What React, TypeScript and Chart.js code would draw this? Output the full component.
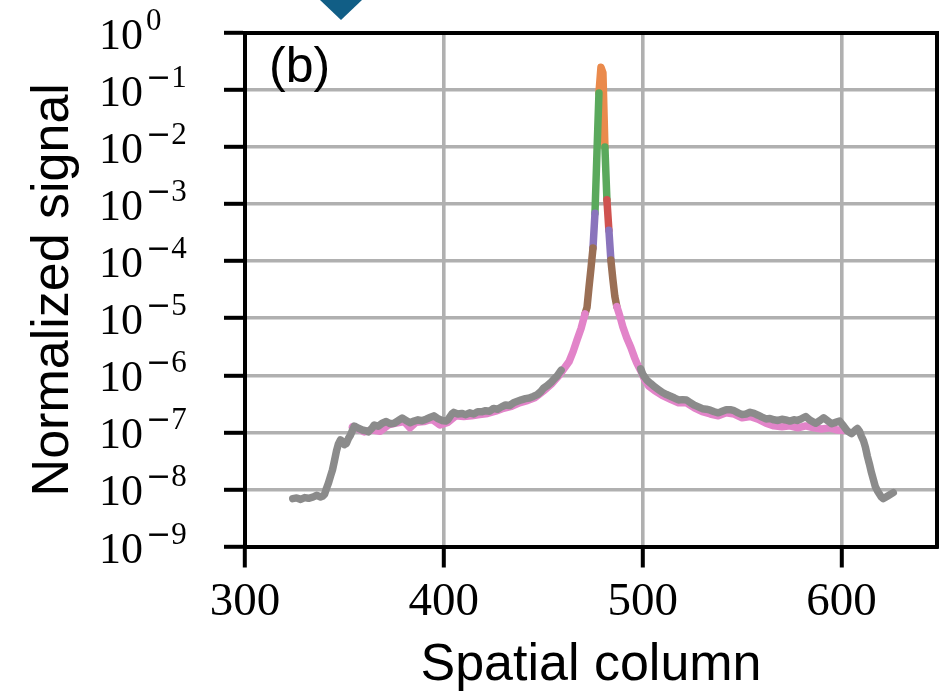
import React, { useEffect, useRef } from 'react';
import { Chart, registerables } from 'chart.js';

Chart.register(...registerables);

// ---- axis ticks ----
const xTickValues = [300, 400, 500, 600];
const yTickExponents = [0, -1, -2, -3, -4, -5, -6, -7, -8, -9];

// ---- gray series (wings) ----
const grayLeftX = [324, 326, 328, 330, 332, 334, 336, 338, 339, 340, 341, 342, 343, 344, 345, 346, 347, 348, 349, 350, 351, 352, 353, 354, 355, 357, 359, 361, 362, 364, 365, 367, 369, 371, 373, 375, 377, 379, 381, 383, 385, 387, 389, 391, 393, 395, 397, 399, 401, 402, 404, 405, 407, 409, 411, 413, 415, 417, 419, 421, 423, 425, 427, 429, 431, 433, 435, 437, 439, 441, 443, 445, 447, 449, 450, 452, 454, 455, 457, 459];
const grayLeftY = [6.9e-9, 7.1e-9, 6.7e-9, 7.2e-9, 7.0e-9, 7.3e-9, 7.9e-9, 7.4e-9, 7.6e-9, 8.2e-9, 1.05e-8, 1.3e-8, 1.7e-8, 2.2e-8, 3.2e-8, 4.7e-8, 6.3e-8, 7.4e-8, 7.0e-8, 6.1e-8, 6.4e-8, 7.8e-8, 8.9e-8, 1.08e-7, 1.29e-7, 1.18e-7, 1.1e-7, 1.06e-7, 1.02e-7, 1.2e-7, 1.35e-7, 1.28e-7, 1.45e-7, 1.55e-7, 1.42e-7, 1.45e-7, 1.6e-7, 1.78e-7, 1.62e-7, 1.48e-7, 1.58e-7, 1.66e-7, 1.6e-7, 1.7e-7, 1.82e-7, 1.95e-7, 1.75e-7, 1.62e-7, 1.58e-7, 1.66e-7, 2.1e-7, 2.24e-7, 2.1e-7, 2.15e-7, 2.04e-7, 2.2e-7, 2.1e-7, 2.3e-7, 2.29e-7, 2.4e-7, 2.35e-7, 2.63e-7, 2.55e-7, 2.8e-7, 3.02e-7, 2.95e-7, 3.3e-7, 3.5e-7, 3.72e-7, 3.9e-7, 4.0e-7, 4.27e-7, 4.6e-7, 5.3e-7, 5.9e-7, 6.6e-7, 7.6e-7, 8.3e-7, 9.8e-7, 1.23e-6];
const grayRightX = [499, 500, 501, 502, 504, 506, 508, 510, 512, 514, 516, 518, 520, 522, 524, 526, 528, 530, 532, 534, 536, 538, 540, 542, 544, 546, 548, 550, 552, 554, 556, 558, 560, 562, 564, 566, 568, 570, 572, 574, 576, 578, 580, 582, 584, 586, 587, 589, 591, 593, 595, 597, 599, 601, 603, 605, 607, 608, 609, 610, 611, 612, 613, 614, 615, 616, 617, 618, 620, 621, 623, 626];
const grayRightY = [1.3e-6, 1.05e-6, 9.3e-7, 8.3e-7, 7.2e-7, 6.3e-7, 5.6e-7, 5.0e-7, 4.6e-7, 4.3e-7, 4.0e-7, 3.7e-7, 3.75e-7, 3.7e-7, 3.3e-7, 3.0e-7, 2.8e-7, 2.6e-7, 2.55e-7, 2.45e-7, 2.3e-7, 2.2e-7, 2.35e-7, 2.5e-7, 2.5e-7, 2.4e-7, 2.2e-7, 2.05e-7, 2.1e-7, 2.25e-7, 2.15e-7, 2.0e-7, 1.85e-7, 1.72e-7, 1.75e-7, 1.66e-7, 1.62e-7, 1.7e-7, 1.65e-7, 1.58e-7, 1.66e-7, 1.62e-7, 1.75e-7, 1.9e-7, 1.65e-7, 1.5e-7, 1.45e-7, 1.6e-7, 1.8e-7, 1.6e-7, 1.42e-7, 1.5e-7, 1.58e-7, 1.3e-7, 1.05e-7, 9.5e-8, 1.1e-7, 1.17e-7, 1.05e-7, 8.5e-8, 7.2e-8, 5.5e-8, 3.8e-8, 2.8e-8, 2.0e-8, 1.5e-8, 1.12e-8, 9.5e-9, 7.4e-9, 6.9e-9, 7.6e-9, 8.8e-9];

// ---- pink series ----
const pinkLeftX = [354, 357, 360, 364, 368, 372, 376, 380, 383, 386, 390, 394, 398, 402, 406, 410, 414, 418, 422, 426, 430, 434, 438, 442, 446, 450, 454, 458, 461, 463, 465, 467, 469, 471];
const pinkLeftY = [1.25e-7, 1.15e-7, 1.02e-7, 1.1e-7, 1.05e-7, 1.35e-7, 1.45e-7, 1.55e-7, 1.2e-7, 1.5e-7, 1.55e-7, 1.7e-7, 1.35e-7, 1.5e-7, 1.95e-7, 1.9e-7, 1.95e-7, 2.05e-7, 2.15e-7, 2.35e-7, 2.65e-7, 2.85e-7, 3.3e-7, 3.6e-7, 4.1e-7, 5.3e-7, 7.0e-7, 1.0e-6, 1.4e-6, 1.75e-6, 2.6e-6, 4.2e-6, 6.6e-6, 1.2e-5];
const pinkRightX = [487, 488, 489, 490, 492, 494, 496, 497, 499, 501, 503, 506, 510, 514, 518, 522, 526, 530, 534, 538, 542, 546, 550, 554, 558, 562, 566, 570, 574, 578, 582, 586, 590, 594, 598, 601];
const pinkRightY = [1.6e-5, 1.25e-5, 9.5e-6, 7.1e-6, 4.5e-6, 3.1e-6, 2.0e-6, 1.65e-6, 1.2e-6, 8.4e-7, 6.5e-7, 5.4e-7, 4.4e-7, 3.8e-7, 3.3e-7, 3.3e-7, 2.7e-7, 2.3e-7, 2.1e-7, 1.95e-7, 2.2e-7, 2.1e-7, 1.8e-7, 1.9e-7, 1.7e-7, 1.45e-7, 1.3e-7, 1.25e-7, 1.3e-7, 1.2e-7, 1.3e-7, 1.2e-7, 1.15e-7, 1.2e-7, 1.1e-7, 1.08e-7];

// ---- brown series ----
const brownLeftX = [471, 472, 473, 474, 475];
const brownLeftY = [1.2e-5, 1.55e-5, 3.5e-5, 7.6e-5, 1.7e-4];
const brownRightX = [484, 485, 486, 487];
const brownRightY = [1.05e-4, 4.8e-5, 2.4e-5, 1.6e-5];

// ---- purple series ----
const purpleLeftX = [475, 476];
const purpleLeftY = [1.7e-4, 6.9e-4];
const purpleRightX = [483, 484];
const purpleRightY = [3.5e-4, 1.05e-4];

// ---- red series ----
const redX = [482, 483];
const redY = [1.2e-3, 3.5e-4];

// ---- green series ----
const greenLeftX = [476, 477, 478];
const greenLeftY = [6.9e-4, 8.0e-3, 8.9e-2];
const greenRightX = [481, 482];
const greenRightY = [1.0e-2, 1.2e-3];

// ---- orange series ----
const orangeX = [478, 479, 480, 481];
const orangeY = [8.9e-2, 2.5e-1, 2.0e-1, 1.0e-2];

type Pt = { x: number; y: number | null };
const seg = (xs: number[], ys: number[]): Pt[] => xs.map((x, i) => ({ x, y: ys[i] }));
const join = (a: Pt[], b: Pt[]): Pt[] => [...a, { x: (a[a.length - 1].x + b[0].x) / 2, y: null }, ...b];

const framePlugin = {
  id: 'framePlugin',
  afterDraw(chart: any) {
    const { ctx, chartArea } = chart;
    const yScale = chart.scales.y;
    ctx.save();
    // top and right spines
    ctx.strokeStyle = '#000';
    ctx.lineWidth = 4;
    ctx.beginPath();
    ctx.moveTo(chartArea.left - 2, chartArea.top);
    ctx.lineTo(chartArea.right, chartArea.top);
    ctx.lineTo(chartArea.right, chartArea.bottom + 2);
    ctx.stroke();

    // y tick labels 10^n
    ctx.fillStyle = '#000';
    ctx.textAlign = 'left';
    ctx.textBaseline = 'alphabetic';
    yTickExponents.forEach((e) => {
      const py = yScale.getPixelForValue(Math.pow(10, e));
      ctx.font = '44px "Liberation Serif"';
      ctx.fillText('10', 99, py + 16);
      let sx = 99 + ctx.measureText('10').width + 3;
      if (e < 0) {
        ctx.font = '30px "DejaVu Sans"';
        ctx.fillText('\u2212', sx, py - 3);
        sx += ctx.measureText('\u2212').width;
      }
      ctx.font = '31px "Liberation Serif"';
      ctx.fillText(String(Math.abs(e)), sx, py - 3);
    });

    // panel label
    ctx.font = '50px "Liberation Sans"';
    ctx.fillText('(b)', 269, 82);

    // cut-off marker from neighbouring panel
    ctx.fillStyle = '#115e86';
    ctx.beginPath();
    ctx.moveTo(320, 0);
    ctx.lineTo(362, 0);
    ctx.lineTo(341, 20);
    ctx.closePath();
    ctx.fill();
    ctx.restore();
  },
};

const lineDs = (label: string, data: Pt[], color: string) => ({
  label,
  data,
  borderColor: color,
  backgroundColor: color,
  borderWidth: 7.5,
  pointRadius: 0,
  tension: 0,
  fill: false,
  spanGaps: false,
  borderCapStyle: 'round' as const,
  borderJoinStyle: 'round' as const,
});

const gridOpts = { color: '#b0b0b0', lineWidth: 3.6, drawTicks: true, tickLength: 21, tickColor: '#000', tickWidth: 4 };

export default function App() {
  const ref = useRef<HTMLCanvasElement | null>(null);
  useEffect(() => {
    document.body.style.margin = '0';
    const canvas = ref.current;
    if (!canvas) return;
    const chart = new Chart(canvas, {
      type: 'line',
      data: {
        datasets: [
          lineDs('gray', join(seg(grayLeftX, grayLeftY), seg(grayRightX, grayRightY)), '#8b8b8b'),
          lineDs('pink', join(seg(pinkLeftX, pinkLeftY), seg(pinkRightX, pinkRightY)), '#e284c9'),
          lineDs('brown', join(seg(brownLeftX, brownLeftY), seg(brownRightX, brownRightY)), '#9a6f55'),
          lineDs('purple', join(seg(purpleLeftX, purpleLeftY), seg(purpleRightX, purpleRightY)), '#8a74bc'),
          lineDs('red', seg(redX, redY), '#cf5250'),
          lineDs('green', join(seg(greenLeftX, greenLeftY), seg(greenRightX, greenRightY)), '#5aa95c'),
          lineDs('orange', seg(orangeX, orangeY), '#ea8a4c'),
        ],
      },
      options: {
        animation: false,
        responsive: false,
        maintainAspectRatio: false,
        layout: { padding: { top: 33, right: 3, bottom: 0, left: 0 } },
        plugins: { legend: { display: false }, tooltip: { enabled: false } },
        scales: {
          x: {
            type: 'linear',
            min: 300,
            max: 648,
            afterBuildTicks: (s: any) => {
              s.ticks = xTickValues.map((v) => ({ value: v }));
            },
            afterFit: (s: any) => {
              s.height = 148.5;
            },
            grid: gridOpts,
            border: { display: true, color: '#000', width: 4 },
            ticks: {
              color: '#000',
              font: { family: 'Liberation Serif', size: 47, lineHeight: 1 },
              padding: 12,
              maxRotation: 0,
              autoSkip: false,
            },
            title: {
              display: true,
              text: 'Spatial column',
              color: '#000',
              font: { family: 'Liberation Sans', size: 52, lineHeight: 1 },
              padding: { top: 0, bottom: 3 },
            },
          },
          y: {
            type: 'logarithmic',
            min: 1e-9,
            max: 1,
            afterBuildTicks: (s: any) => {
              s.ticks = yTickExponents.map((e) => ({ value: Math.pow(10, e), major: true }));
            },
            afterFit: (s: any) => {
              s.width = 245;
            },
            grid: gridOpts,
            border: { display: true, color: '#000', width: 4 },
            ticks: { display: false },
            title: {
              display: true,
              text: 'Normalized signal',
              color: '#000',
              font: { family: 'Liberation Sans', size: 52, lineHeight: 1 },
              padding: { top: 28, bottom: 0 },
            },
          },
        },
      },
      plugins: [framePlugin],
    });
    return () => chart.destroy();
  }, []);
  return (
    <div style={{ width: 940, height: 695 }}>
      <canvas ref={ref} width={940} height={695} style={{ display: 'block' }} />
    </div>
  );
}
